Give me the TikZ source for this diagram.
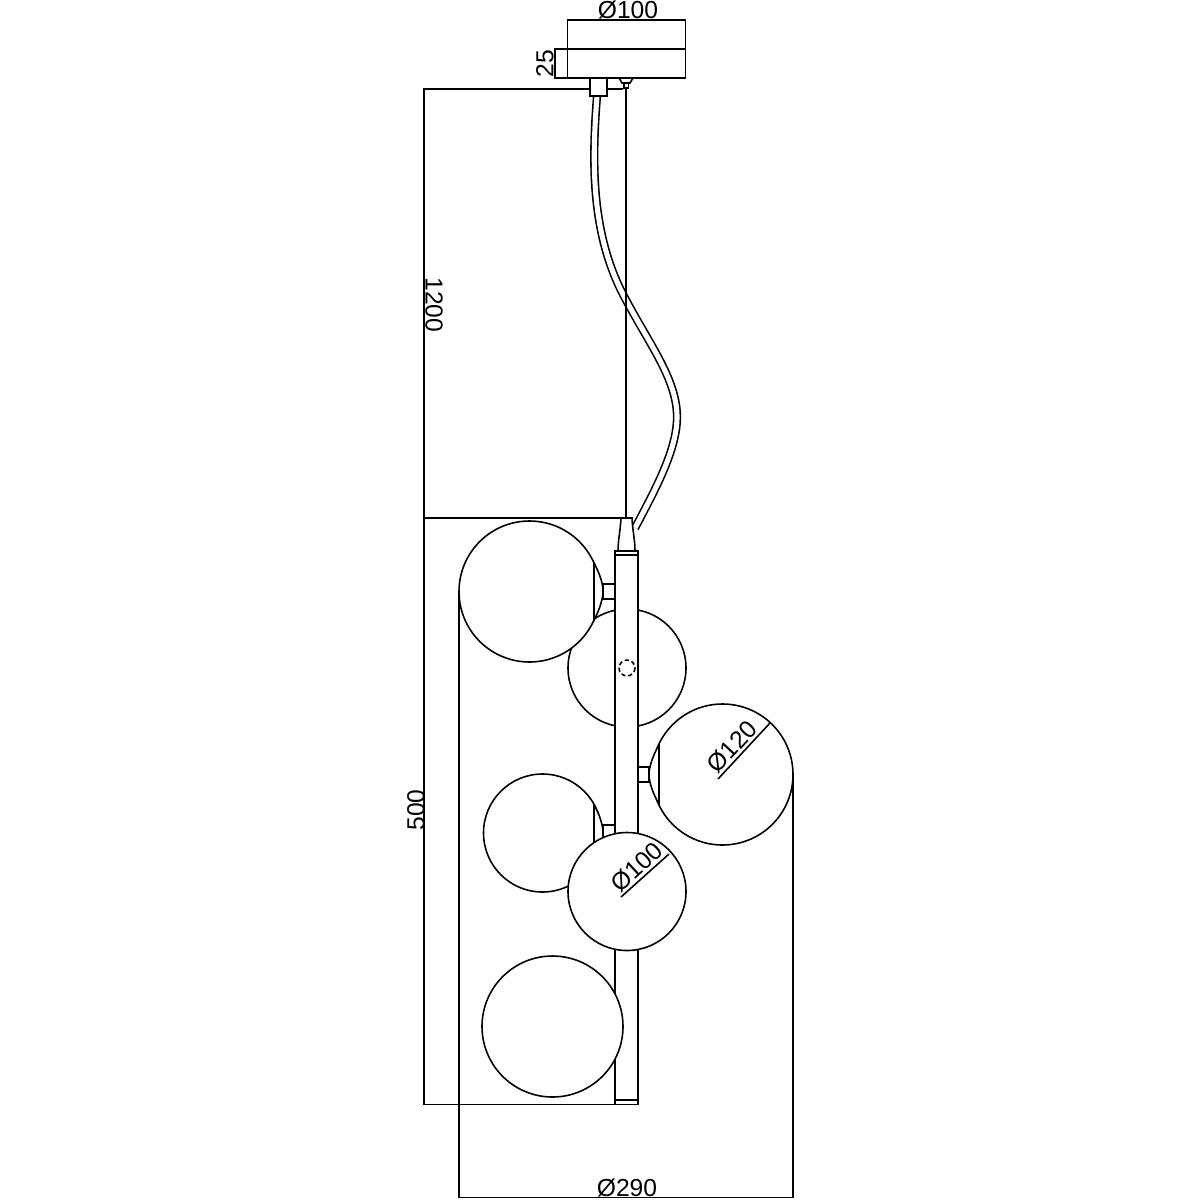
\documentclass[tikz,border=0pt]{standalone}
\usepackage{fontspec}
\setmainfont{Liberation Sans}
\begin{document}
\begin{tikzpicture}[x=0.01cm,y=-0.01cm,line width=0.45pt,font=\fontsize{7}{8}\selectfont]
    \tikzstyle{dimline}=[line width=0.45pt];
    \tikzstyle{dimlabel}=[inner sep=0pt];
    \tikzstyle{part}=[draw,fill=white];
    \tikzstyle{globe}=[draw,fill=white];
    \tikzstyle{wire}=[line width=0.8pt];
    \tikzstyle{cable}=[double=white,double distance=1.45pt,line width=0.45pt];

    \useasboundingbox (0,0) rectangle (1200,1200);

    % dimension lines
    \draw[dimline] (567.5,49) -- (567.5,20) -- (685.5,20) -- (685.5,49);
    \draw[dimline] (567.5,49) -- (555,49) -- (555,78) -- (567.5,78);
    \draw[dimline] (623,89) -- (424,89) -- (424,1104.5) -- (638,1104.5);
    \draw[dimline] (424,518) -- (625,518);
    \draw[dimline] (459,591) -- (459,1197.5) -- (793,1197.5) -- (793,775);

    \node[dimlabel] (lblcanopy) at (628,10) {Ø100};
    \node[dimlabel,rotate=90] (lblheight) at (545,63.5) {25};
    \node[dimlabel,rotate=-90] (lblsuspend) at (434,305) {1200};
    \node[dimlabel,rotate=90] (lblbody) at (416,810) {500};
    \node[dimlabel] (lblwidth) at (627,1187.5) {Ø290};

    % suspension
    \draw[cable] (597,96) .. controls (592,160) and (590,235) .. (626,300)
        .. controls (650,345) and (677,380) .. (677,417)
        .. controls (677,450) and (655,490) .. (635,528);
    \draw[wire] (626,88) -- (626,518);

    % canopy
    \draw[part] (567.5,49) rectangle (685.5,78);
    \draw[part] (590,78) rectangle (607,96);
    \draw[part] (619,78) -- (633,78) -- (630,83) -- (622,83) -- cycle;
    \draw[part] (624,83) rectangle (628.5,88);

    % globes behind the rod
    \draw[globe] (627,668) circle (59);
    \draw[globe] (529.5,591.5) circle (70.5);
    \draw[part] (594,563) .. controls (600,574) and (603,584) .. (603,591)
        .. controls (603,598) and (600,609) .. (594,620) -- cycle;
    \draw[part] (603,584) rectangle (615,599);

    % rod
    \draw[part] (621,518) -- (632,518) .. controls (632.5,530) and (635,540) .. (635,551)
        -- (618,551) .. controls (618,540) and (620.5,530) .. (621,518) -- cycle;
    \draw[part] (615,551) rectangle (638,1104.5);
    \draw (615,555) -- (638,555);
    \draw (615,1100) -- (638,1100);
    \draw[dash pattern=on 1.2pt off 0.8pt] (627,668) circle (8);

    % globes in front
    \draw[part] (638,767) rectangle (649,782);
    \draw[globe] (722.5,774.5) circle (70.5);
    \draw[part] (659,745) .. controls (653,755) and (649,767) .. (649,774.5)
        .. controls (649,782) and (653,794) .. (659,804) -- cycle;
    \draw[part] (603,825) rectangle (615,845);
    \draw[globe] (542.5,833) circle (59);
    \draw[part] (594,805) .. controls (600,815) and (603,826) .. (603,833)
        .. controls (603,840) and (600,851) .. (594,862) -- cycle;
    \draw[globe] (627,891.5) circle (59);
    \draw[globe] (552.5,1026.5) circle (70.5);

    % diameters
    \draw[dimline] (718,779) -- (770,723);
    \draw[dimline] (621,897) -- (669,854);
    \node[dimlabel,rotate=47] (lblbig) at (732,747) {Ø120};
    \node[dimlabel,rotate=43] (lblsmall) at (637,867) {Ø100};
\end{tikzpicture}
\end{document}
